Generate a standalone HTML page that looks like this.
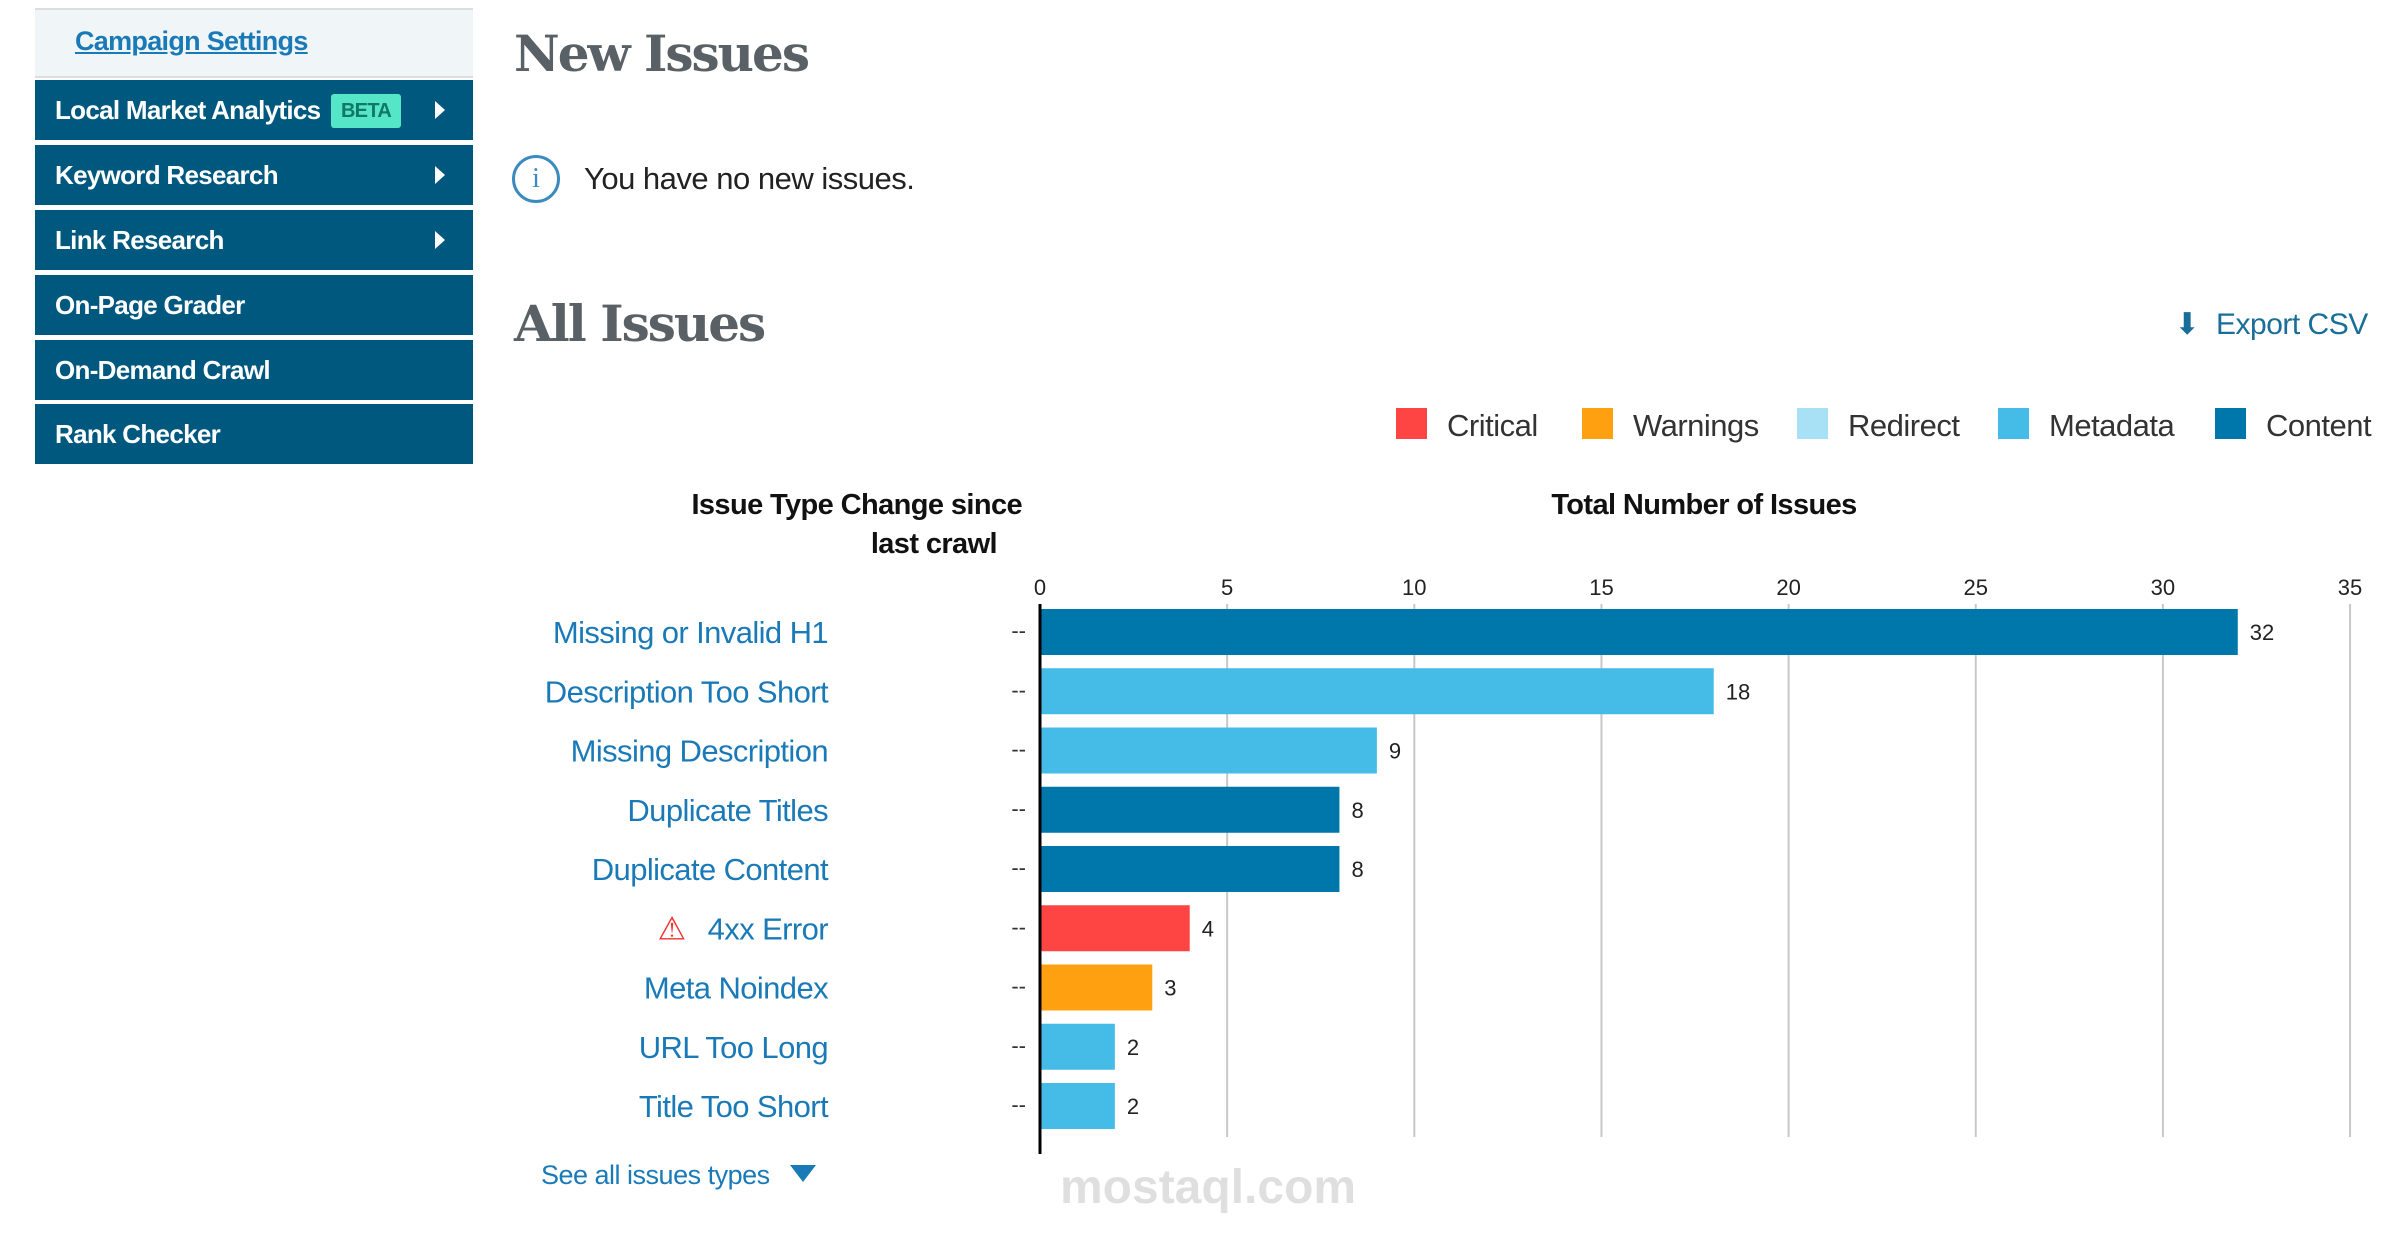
<!DOCTYPE html>
<html><head><meta charset="utf-8">
<style>
body{margin:0;width:2406px;height:1239px;background:#fff;position:relative;overflow:hidden;font-family:"Liberation Sans",sans-serif;}
.abs{position:absolute;}
.nav{position:absolute;left:35px;width:438px;height:60px;background:#00587f;color:#fff;font-weight:bold;font-size:26px;line-height:60px;box-sizing:border-box;padding-left:20px;letter-spacing:-0.7px;}
.arrow{position:absolute;right:28px;top:21px;width:0;height:0;border-top:9px solid transparent;border-bottom:9px solid transparent;border-left:10px solid #fff;}
</style></head><body>
<div class="abs" style="left:35px;top:8px;width:438px;height:66px;background:#f0f5f7;border-top:2px solid #ddd;border-bottom:2px solid #ddd;"></div>
<a class="abs" style="left:75px;top:26px;font-size:27px;color:#1a7ab8;text-decoration:underline;font-weight:bold;letter-spacing:-0.7px;">Campaign Settings</a>
<div class="nav" style="top:80px;">Local Market Analytics <span style="display:inline-block;background:#55e6c8;color:#176;font-size:20px;line-height:34px;padding:0 10px;border-radius:3px;vertical-align:2px;margin-left:4px;">BETA</span><span class="arrow"></span></div>
<div class="nav" style="top:145px;">Keyword Research<span class="arrow"></span></div>
<div class="nav" style="top:210px;">Link Research<span class="arrow"></span></div>
<div class="nav" style="top:275px;">On-Page Grader</div>
<div class="nav" style="top:340px;">On-Demand Crawl</div>
<div class="nav" style="top:404px;">Rank Checker</div>

<div class="abs" style="left:514px;top:24px;font-family:'DejaVu Serif',serif;font-weight:bold;font-size:50px;color:#5a6166;letter-spacing:-2px;">New Issues</div>
<div class="abs" style="left:512px;top:155px;width:42px;height:42px;border:3px solid #3a8cc0;border-radius:50%;color:#3a8cc0;font-size:28px;text-align:center;line-height:42px;font-family:'Liberation Serif',serif;">i</div>
<div class="abs" style="left:584px;top:161px;font-size:31px;color:#222;letter-spacing:-0.5px;">You have no new issues.</div>
<div class="abs" style="left:514px;top:294px;font-family:'DejaVu Serif',serif;font-weight:bold;font-size:50px;color:#5a6166;letter-spacing:-2px;">All Issues</div>
<div class="abs" style="left:2174px;top:307px;font-size:30px;color:#1a6e9a;letter-spacing:-0.5px;"><span style="display:inline-block;width:26px;margin-right:16px;text-align:center;">⬇</span>Export CSV</div>

<svg class="abs" style="left:0;top:0" width="2406" height="1239" id="chart"></svg>
<div class="abs" style="left:1060px;top:1160px;font-size:48px;font-weight:bold;color:#000;opacity:0.12;">mostaql.com</div>
<script>
const categories=["Missing or Invalid H1","Description Too Short","Missing Description","Duplicate Titles","Duplicate Content","4xx Error","Meta Noindex","URL Too Long","Title Too Short"];
const values=[32,18,9,8,8,4,3,2,2];
const seriesType=["Content","Metadata","Metadata","Content","Content","Critical","Warnings","Metadata","Metadata"];
const ticks=[0,5,10,15,20,25,30,35];
const legendNames=["Critical","Warnings","Redirect","Metadata","Content"];
const colors={Critical:"#ff4444",Warnings:"#ffa010",Redirect:"#a8e0f5",Metadata:"#45bbe8",Content:"#0077aa"};
const svg=document.getElementById('chart');const NS="http://www.w3.org/2000/svg";
const x0=1040,pxu=37.43,y0=632,pitch=59.25,bh=46;
const xs=v=>x0+v*pxu, ys=i=>y0+i*pitch;
function el(t,a,txt){const e=document.createElementNS(NS,t);for(const k in a)e.setAttribute(k,a[k]);if(txt!==undefined)e.textContent=txt;svg.appendChild(e);return e;}
const F="Liberation Sans, sans-serif";
ticks.forEach(t=>{
 if(t>0){const g=el('line',{x1:xs(t),x2:xs(t),y1:604,y2:1137,stroke:'#c8c8c8','stroke-width':2});
 
 }
 const l=el('text',{x:xs(t),y:595,'text-anchor':'middle','font-size':22,fill:'#222','font-family':F},t);
 
 
});
categories.forEach((c,i)=>{
 const y=ys(i);
 const b=el('rect',{x:x0,y:y-bh/2,width:values[i]*pxu,height:bh,fill:colors[seriesType[i]]});
 
 
 const v=el('text',{x:xs(values[i])+12,y:y+8,'font-size':22,fill:'#222','font-family':F},values[i]);
 
 
 const lb=el('text',{x:828,y:y+11,'text-anchor':'end','font-size':31,fill:'#1a7ab8','font-family':F,'letter-spacing':'-0.6'},c);
 
 
 const d=el('text',{x:1026,y:y+6,'text-anchor':'end','font-size':22,fill:'#333','font-family':F},'--');
 
 
 if(seriesType[i]==="Critical"){
  const w=el('text',{x:672,y:y+11,'text-anchor':'middle','font-size':32,fill:'#ee3333','font-family':'DejaVu Sans, sans-serif'},'⚠');
  
  
 }
});
const ax=el('line',{x1:x0,x2:x0,y1:604,y2:1154,stroke:'#000','stroke-width':3});


const lx=[1396,1582,1797,1998,2215];
legendNames.forEach((n,i)=>{
 const r=el('rect',{x:lx[i],y:408,width:31,height:31,fill:colors[n]});
 
 
 const t=el('text',{x:lx[i]+51,y:436,'font-size':31,fill:'#333','font-family':F,'letter-spacing':'-0.5'},n);
 
 
});
const h1=el('text',{x:1022,y:514,'text-anchor':'end','font-size':29,'font-weight':'bold',fill:'#111','font-family':F,'letter-spacing':'-0.6'},'Issue Type Change since');


const h2=el('text',{x:997,y:553,'text-anchor':'end','font-size':29,'font-weight':'bold',fill:'#111','font-family':F,'letter-spacing':'-0.6'},'last crawl');


const h3=el('text',{x:1704,y:514,'text-anchor':'middle','font-size':29,'font-weight':'bold',fill:'#111','font-family':F,'letter-spacing':'-0.6'},'Total Number of Issues');


const s=el('text',{x:541,y:1184,'font-size':27,fill:'#1a7ab8','font-family':F,'letter-spacing':'-0.5'},'See all issues types');


const tri=el('polygon',{points:'790,1165 816,1165 803,1182',fill:'#1a7ab8'});


</script>
</body></html>
